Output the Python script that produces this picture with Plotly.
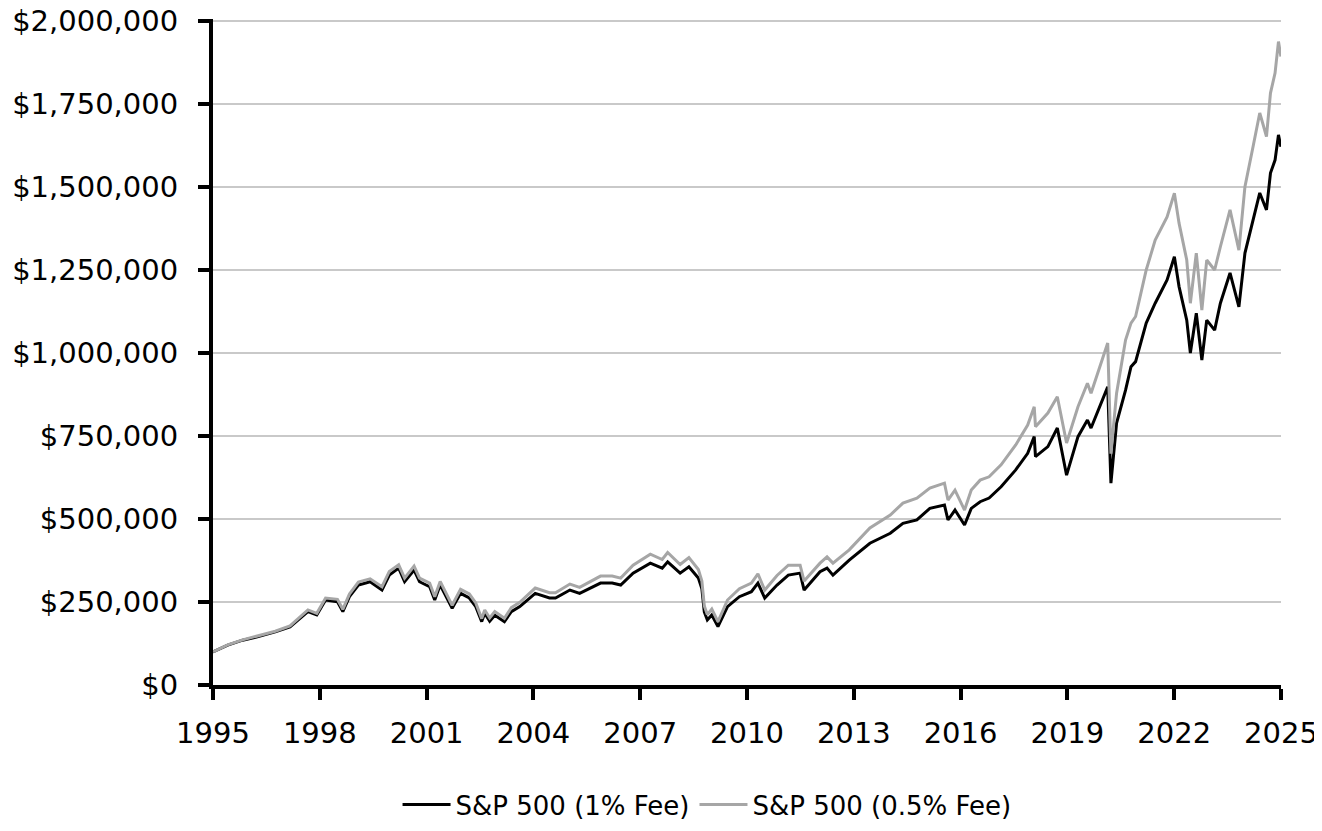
import plotly.graph_objects as go

# sample dates
dates = [
    "1995-01-01", "1995-06-01", "1995-11-01", "1996-04-01", "1996-10-01", "1997-03-01",
    "1997-09-01", "1997-12-01", "1998-03-01", "1998-07-01", "1998-08-25", "1998-11-01",
    "1999-02-01", "1999-06-01", "1999-10-01", "1999-12-15", "2000-03-20", "2000-05-20",
    "2000-08-25", "2000-10-20", "2001-02-01", "2001-03-25", "2001-05-20", "2001-09-20",
    "2001-12-15", "2002-03-15", "2002-05-20", "2002-07-20", "2002-08-20", "2002-10-10",
    "2002-12-01", "2003-03-10", "2003-05-20", "2003-08-15", "2004-01-20", "2004-06-15",
    "2004-08-15", "2005-01-10", "2005-04-20", "2005-11-20", "2006-03-20", "2006-06-15",
    "2006-10-20", "2007-04-15", "2007-08-15", "2007-10-10", "2008-02-15", "2008-05-15",
    "2008-08-20", "2008-09-25", "2008-10-20", "2008-11-20", "2009-01-05", "2009-03-09",
    "2009-06-15", "2009-10-15", "2010-02-15", "2010-04-23", "2010-07-02", "2010-11-05",
    "2011-03-01", "2011-06-30", "2011-08-10", "2012-01-20", "2012-04-01", "2012-06-01",
    "2012-11-15", "2013-06-15", "2014-01-10", "2014-05-20", "2014-10-10", "2015-02-20",
    "2015-07-20", "2015-08-25", "2015-11-05", "2016-02-11", "2016-04-20", "2016-07-20",
    "2016-10-20", "2017-02-20", "2017-07-20", "2017-11-20", "2018-01-26", "2018-02-08",
    "2018-06-15", "2018-09-20", "2018-12-24", "2019-04-20", "2019-07-26", "2019-09-01",
    "2020-02-19", "2020-03-23", "2020-05-20", "2020-08-20", "2020-10-15", "2020-12-01",
    "2021-03-20", "2021-06-20", "2021-10-20", "2022-01-03", "2022-02-20", "2022-05-10",
    "2022-06-16", "2022-08-16", "2022-10-12", "2022-12-01", "2023-02-20", "2023-04-20",
    "2023-07-28", "2023-10-27", "2023-12-28", "2024-03-20", "2024-05-28", "2024-08-05",
    "2024-09-15", "2024-11-01", "2024-12-06", "2024-12-31",
]

# portfolio value, thousands of dollars
fee_1pct = [
    100, 120, 135, 145, 160, 175,
    221, 211, 256, 251, 221, 266,
    301, 311, 286, 331, 352, 311,
    346, 311, 296, 256, 301, 231,
    276, 262, 236, 191, 216, 192,
    210, 191, 221, 236, 276, 262,
    262, 286, 276, 307, 307, 301,
    337, 367, 352, 371, 337, 356,
    322, 290, 220, 196, 211, 176,
    236, 266, 281, 307, 262, 301,
    331, 337, 286, 341, 352, 331,
    376, 427, 457, 487, 497, 532,
    542, 497, 527, 482, 532, 552,
    563, 597, 648, 698, 748, 688,
    718, 774, 632, 748, 798, 774,
    898, 608, 789, 888, 959, 974,
    1090, 1150, 1220, 1290, 1200, 1099,
    1000, 1120, 979, 1099, 1069, 1150,
    1241, 1139, 1301, 1400, 1482, 1431,
    1542, 1581, 1657, 1621,
]

fee_05pct = [
    100, 121, 136, 147, 162, 178,
    226, 216, 262, 258, 228, 274,
    310, 320, 296, 342, 362, 322,
    358, 322, 307, 266, 312, 240,
    288, 274, 247, 200, 226, 202,
    221, 201, 233, 249, 292, 278,
    278, 304, 294, 328, 328, 322,
    361, 394, 378, 399, 363, 384,
    348, 313, 238, 212, 229, 191,
    256, 290, 307, 335, 286, 330,
    361, 361, 313, 367, 386, 367,
    407, 473, 512, 548, 563, 593,
    608, 557, 587, 527, 587, 617,
    627, 663, 723, 783, 838, 778,
    819, 868, 729, 838, 909, 879,
    1030, 697, 879, 1039, 1090, 1110,
    1250, 1340, 1410, 1481, 1391, 1280,
    1150, 1301, 1129, 1280, 1250, 1320,
    1431, 1310, 1501, 1621, 1723, 1652,
    1783, 1843, 1938, 1893,
]

series_names = ["S&P 500 (1% Fee)", "S&P 500 (0.5% Fee)"]
year_ticks = list(range(1995, 2026, 3))
value_ticks = list(range(0, 2000001, 250000))

fig = go.Figure()
fig.add_trace(go.Scatter(x=dates, y=[v * 1000 for v in fee_1pct], mode="lines",
                         name=series_names[0], line=dict(color="#000000", width=3)))
fig.add_trace(go.Scatter(x=dates, y=[v * 1000 for v in fee_05pct], mode="lines",
                         name=series_names[1], line=dict(color="#a6a6a6", width=3)))

font_name = "DejaVu Sans"

# page body has an 8px margin, so the figure is drawn 8px smaller
fig.update_layout(
    width=1314, height=823,
    margin=dict(l=205, r=41, t=11, b=146),
    paper_bgcolor="white", plot_bgcolor="white",
    font=dict(family=font_name, size=29, color="#000000"),
    showlegend=True,
    legend=dict(orientation="h", xref="container", yref="container",
                x=0.532, xanchor="center", y=0.032, yanchor="middle",
                font=dict(size=26), itemwidth=48, traceorder="normal"),
)

fig.update_xaxes(
    type="date",
    range=["1995-01-01", "2025-01-01"],
    tickvals=[f"{y}-01-01" for y in year_ticks],
    ticktext=[str(y) for y in year_ticks],
    showgrid=False,
    showline=True, linecolor="#000000", linewidth=4,
    ticks="outside", ticklen=11, tickwidth=4, tickcolor="#000000",
    ticklabelstandoff=8,
    ticklabeloverflow="allow",
    automargin=False,
    zeroline=False,
)
fig.update_yaxes(
    range=[0, 2006000],
    tickvals=value_ticks,
    ticktext=[f"${v:,}" for v in value_ticks],
    showgrid=True, gridcolor="#c9c9c9", gridwidth=1.5,
    showline=True, linecolor="#000000", linewidth=4,
    ticks="outside", ticklen=11, tickwidth=4, tickcolor="#000000",
    ticklabelstandoff=14,
    ticklabeloverflow="allow",
    automargin=False,
    zeroline=False,
)

fig.write_html("out.html")
